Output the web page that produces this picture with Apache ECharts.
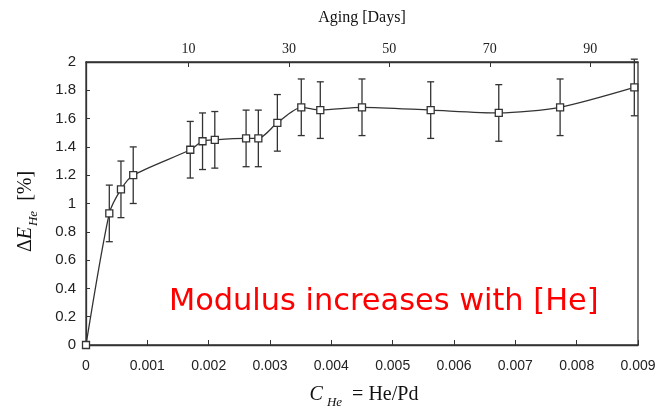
<!DOCTYPE html>
<html><head><meta charset="utf-8">
<script src="https://cdn.jsdelivr.net/npm/echarts@6/dist/echarts.min.js"></script>
<style>html,body{margin:0;padding:0;background:#fff}#c{width:664px;height:409px}</style>
</head><body><div id="c"></div>
<script>
// Helium concentration He/Pd
const cHe = [0, 0.00038, 0.00057, 0.00077, 0.0017, 0.0019, 0.0021, 0.00261, 0.00281, 0.00312, 0.00351, 0.00382, 0.0045, 0.00562, 0.00673, 0.00773, 0.00894];
// Modulus change (%)
const dE = [0, 0.93, 1.10, 1.20, 1.38, 1.44, 1.45, 1.46, 1.46, 1.57, 1.68, 1.66, 1.68, 1.66, 1.64, 1.68, 1.82];
// Error bar half-widths (%)
const errs = [0, 0.2, 0.2, 0.2, 0.2, 0.2, 0.2, 0.2, 0.2, 0.2, 0.2, 0.2, 0.2, 0.2, 0.2, 0.2, 0.2];
// Top axis (aging days) tick labels
const dayTicks = [10, 30, 50, 70, 90];
const dayRange = [-10.4, 99.5];
const yTicksMax = 2;

const ink = '#333';
const lineData = cHe.map((x, i) => [x, dE[i]]);
const errData = cHe.map((x, i) => [x, dE[i] - errs[i], dE[i] + errs[i]]).filter((d, i) => errs[i] > 0);

const serif = 'Liberation Serif';
const chart = echarts.init(document.getElementById('c'), null, {renderer: 'canvas'});
chart.setOption({
  backgroundColor: '#fff',
  animation: false,
  grid: {left: 86, right: 26, top: 62, bottom: 64, show: true, borderColor: ink, borderWidth: 1.3,
    containLabel: false, outerBoundsMode: 'none'},
  xAxis: [{
    type: 'value', min: 0, max: 0.009, interval: 0.001, position: 'bottom',
    axisLine: {show: true, lineStyle: {color: ink, width: 1.3}},
    axisTick: {show: true, inside: true, length: 5, lineStyle: {color: ink}},
    splitLine: {show: false},
    axisLabel: {color: '#222', fontFamily: 'Liberation Sans', fontSize: 14, margin: 14,
      formatter: v => v === 0 ? '0' : v.toFixed(3)},
    name: '{c|C}{s|He}{n|  = He/Pd}', nameLocation: 'middle', nameGap: 36,
    nameTextStyle: {padding: [0, 0, 0, 4], rich: {
      c: {fontFamily: serif, fontStyle: 'italic', fontSize: 20, color: '#111', verticalAlign: 'bottom', lineHeight: 24},
      s: {fontFamily: serif, fontStyle: 'italic', fontSize: 13, color: '#111', verticalAlign: 'bottom', padding: [0, 0, -4, 4], lineHeight: 24},
      n: {fontFamily: serif, fontSize: 20, color: '#111', verticalAlign: 'bottom', lineHeight: 24}
    }}
  }, {
    type: 'value', min: dayRange[0], max: dayRange[1], position: 'top',
    axisLine: {show: true, lineStyle: {color: ink, width: 1.3}},
    axisTick: {show: true, inside: true, length: 5, lineStyle: {color: ink}, customValues: dayTicks},
    splitLine: {show: false},
    axisLabel: {color: '#222', fontFamily: serif, fontSize: 14, margin: 6, customValues: dayTicks},
    name: 'Aging [Days]', nameLocation: 'middle', nameGap: 36,
    nameTextStyle: {fontFamily: serif, fontSize: 16, color: '#111'}
  }],
  yAxis: {
    type: 'value', min: 0, max: yTicksMax, interval: 0.2,
    axisLine: {show: true, lineStyle: {color: ink, width: 1.3}},
    axisTick: {show: true, inside: true, length: 4, lineStyle: {color: ink}},
    splitLine: {show: false},
    axisLabel: {color: '#222', fontFamily: 'Liberation Sans', fontSize: 15, margin: 10},
    name: '{d|\u0394}{e|E}{s|He}{n|  [%]}', nameLocation: 'middle', nameGap: 50, nameRotate: 90,
    nameTextStyle: {padding: [0, 16, 0, 0], rich: {
      d: {fontFamily: serif, fontSize: 20, color: '#111', verticalAlign: 'bottom', lineHeight: 24},
      e: {fontFamily: serif, fontStyle: 'italic', fontSize: 20, color: '#111', verticalAlign: 'bottom', lineHeight: 24},
      s: {fontFamily: serif, fontStyle: 'italic', fontSize: 13, color: '#111', verticalAlign: 'bottom', padding: [0, 0, -4, 1], lineHeight: 24},
      n: {fontFamily: serif, fontSize: 20, color: '#111', verticalAlign: 'bottom', lineHeight: 24}
    }}
  },
  series: [{
    type: 'custom', xAxisIndex: 0, yAxisIndex: 0, z: 2,
    data: errData,
    encode: {x: 0, y: [1, 2]},
    renderItem: (params, api) => {
      const x = api.value(0);
      const lo = api.coord([x, api.value(1)]);
      const hi = api.coord([x, api.value(2)]);
      const w = 3.5;
      const st = {stroke: ink, lineWidth: 1.3};
      return {type: 'group', children: [
        {type: 'line', shape: {x1: lo[0], y1: lo[1], x2: hi[0], y2: hi[1]}, style: st},
        {type: 'line', shape: {x1: lo[0] - w, y1: lo[1], x2: lo[0] + w, y2: lo[1]}, style: st},
        {type: 'line', shape: {x1: hi[0] - w, y1: hi[1], x2: hi[0] + w, y2: hi[1]}, style: st}
      ]};
    }
  }, {
    type: 'line', xAxisIndex: 0, yAxisIndex: 0, z: 3,
    data: lineData, smooth: 0.25,
    symbol: 'rect', symbolSize: 7, showSymbol: true,
    lineStyle: {color: ink, width: 1.3},
    itemStyle: {color: '#fff', borderColor: ink, borderWidth: 1.3}
  }],
  graphic: [{
    type: 'text', left: 169, top: 287, z: 10,
    style: {text: 'Modulus increases with [He]', fill: '#f00', font: '30.4px "DejaVu Sans"'}
  }]
});
</script></body></html>
